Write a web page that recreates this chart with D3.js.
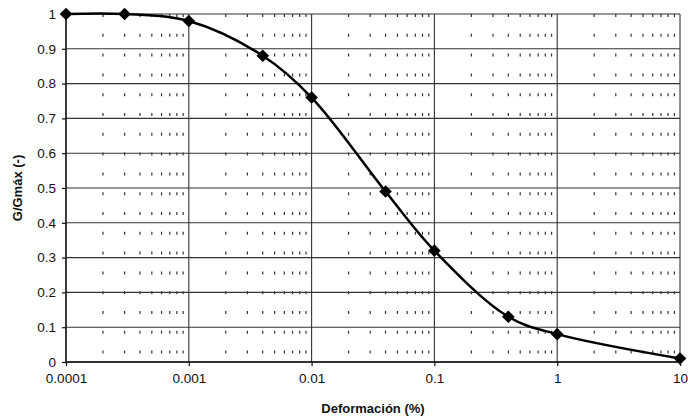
<!DOCTYPE html>
<html>
<head>
<meta charset="utf-8">
<script src="https://cdn.jsdelivr.net/npm/d3@7"></script>
<style>
  html, body { margin: 0; padding: 0; background: #fff; }
  svg { display: block; }
  text { font-family: "Liberation Sans", Arial, sans-serif; fill: #111; }
</style>
</head>
<body>
<svg id="chart" width="688" height="418"></svg>
<script>
// Data
const strain = [0.0001, 0.0003, 0.001, 0.004, 0.01, 0.04, 0.1, 0.4, 1, 10];
const modulusRatio = [1.0, 1.0, 0.98, 0.88, 0.76, 0.49, 0.32, 0.13, 0.08, 0.01];
const xTickValues = [0.0001, 0.001, 0.01, 0.1, 1, 10];
const xTickLabels = ["0.0001", "0.001", "0.01", "0.1", "1", "10"];
const yTickValues = [0, 0.1, 0.2, 0.3, 0.4, 0.5, 0.6, 0.7, 0.8, 0.9, 1];
const yTickLabels = ["0", "0.1", "0.2", "0.3", "0.4", "0.5", "0.6", "0.7", "0.8", "0.9", "1"];
const xTitle = "Deformación (%)";
const yTitle = "G/Gmáx (-)";

const svg = d3.select("#chart");
const margin = { left: 66, right: 8, top: 14, bottom: 56 };
const W = 688, H = 418;

const x = d3.scaleLog().domain([0.0001, 10]).range([margin.left, W - margin.right]);
const y = d3.scaleLinear().domain([0, 1]).range([H - margin.bottom, margin.top]);

const g = svg.append("g");

// minor vertical dashed gridlines
const minor = [];
for (let e = -4; e < 1; e++) {
  for (let k = 2; k <= 9; k++) minor.push(k * Math.pow(10, e));
}
g.append("g").selectAll("line").data(minor).join("line")
  .attr("x1", d => x(d)).attr("x2", d => x(d))
  .attr("y1", y(1)).attr("y2", y(0))
  .attr("stroke", "#333").attr("stroke-width", 1.2)
  .attr("stroke-dasharray", "3,16.8");

// horizontal gridlines
g.append("g").selectAll("line").data(yTickValues).join("line")
  .attr("x1", x(0.0001)).attr("x2", x(10))
  .attr("y1", d => y(d)).attr("y2", d => y(d))
  .attr("stroke", "#333").attr("stroke-width", 1.1);

// major vertical gridlines
g.append("g").selectAll("line").data(xTickValues).join("line")
  .attr("x1", d => x(d)).attr("x2", d => x(d))
  .attr("y1", y(1)).attr("y2", y(0))
  .attr("stroke", "#333").attr("stroke-width", 1.1);

// axes
const xAxis = d3.axisBottom(x).tickValues(xTickValues)
  .tickFormat((d, i) => xTickLabels[i]).tickSize(4).tickPadding(7);
const yAxis = d3.axisLeft(y).tickValues(yTickValues)
  .tickFormat((d, i) => yTickLabels[i]).tickSize(4).tickPadding(6);

const gx = svg.append("g").attr("transform", `translate(0,${y(0)})`).call(xAxis);
const gy = svg.append("g").attr("transform", `translate(${x(0.0001)},0)`).call(yAxis);
[gx, gy].forEach(a => {
  a.select(".domain").attr("stroke", "#111").attr("stroke-width", 1.3);
  a.selectAll(".tick line").attr("stroke", "#111").attr("stroke-width", 1.2);
  a.selectAll(".tick text").style("font-size", "13.5px").attr("fill", "#111")
    .style("font-family", "'Liberation Sans', Arial, sans-serif");
});
gy.select(".domain").attr("d", `M0,${y(0)}V${y(1)}`);
gx.select(".domain").attr("d", `M${x(0.0001)},0H${x(10)}`);

// line
const pts = strain.map((s, i) => [s, modulusRatio[i]]);
const line = d3.line().x(d => x(d[0])).y(d => y(d[1])).curve(d3.curveCatmullRom.alpha(0.5));
svg.append("path").datum(pts).attr("d", line)
  .attr("fill", "none").attr("stroke", "#000").attr("stroke-width", 2.5);

// diamond markers
const diamond = d3.symbol().type(d3.symbolSquare).size(80);
svg.append("g").selectAll("path").data(pts).join("path")
  .attr("d", diamond)
  .attr("transform", d => `translate(${x(d[0])},${y(d[1])}) rotate(45)`)
  .attr("fill", "#000");

// titles
svg.append("text")
  .attr("x", (x(0.0001) + x(10)) / 2).attr("y", 413)
  .attr("text-anchor", "middle")
  .style("font-size", "13px").style("font-weight", "bold")
  .text(xTitle);

svg.append("text")
  .attr("transform", `translate(22,${(y(0) + y(1)) / 2}) rotate(-90)`)
  .attr("text-anchor", "middle")
  .style("font-size", "13px").style("font-weight", "bold")
  .text(yTitle);
</script>
</body>
</html>
